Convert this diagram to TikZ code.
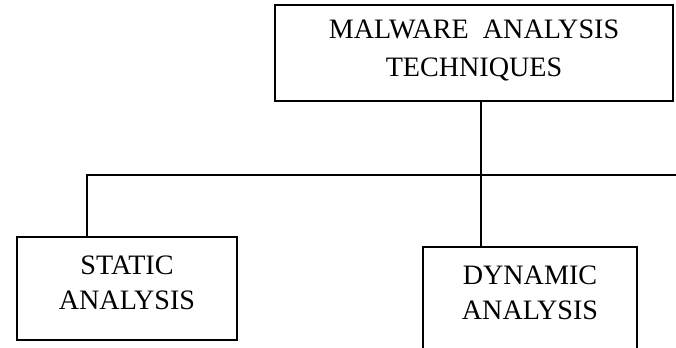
\documentclass[tikz,border=0pt]{standalone}
\usepackage{fontspec}
\setmainfont{Liberation Serif}
\usetikzlibrary{positioning}

\begin{document}
\begin{tikzpicture}[scale=1,
  box/.style={draw,line width=1.1pt,align=center,inner sep=0mm,font=\fontsize{20}{25}\selectfont},
  link/.style={line width=1.1pt}]
\useasboundingbox (0,0) rectangle (16.9,8.7);
\clip (0,0) rectangle (16.9,8.7);

\node [box,minimum width=9.95cm,minimum height=2.4cm,text depth=0.25cm,font=\fontsize{20}{27}\selectfont]
  (techniques) at (11.85,7.375) {MALWARE~~ANALYSIS\\TECHNIQUES};
\node [box,minimum width=5.5cm,minimum height=2.575cm,text depth=0.3cm] (static) at (3.175,1.4875) {STATIC\\ANALYSIS};
\node [box,minimum width=5.35cm,minimum height=2.575cm,text depth=0.3cm] (dynamic) at (13.25,1.2375) {DYNAMIC\\ANALYSIS};

\coordinate (split) at (12.025,4.325);
\coordinate (leftend) at (2.175,4.325);
\coordinate (rightend) at (16.9,4.325);

\draw [link] (techniques.south -| split) -- (split) -- (dynamic.north -| split);
\draw [link] (static.north -| leftend) -- (leftend) -- (rightend);
\end{tikzpicture}
\end{document}
